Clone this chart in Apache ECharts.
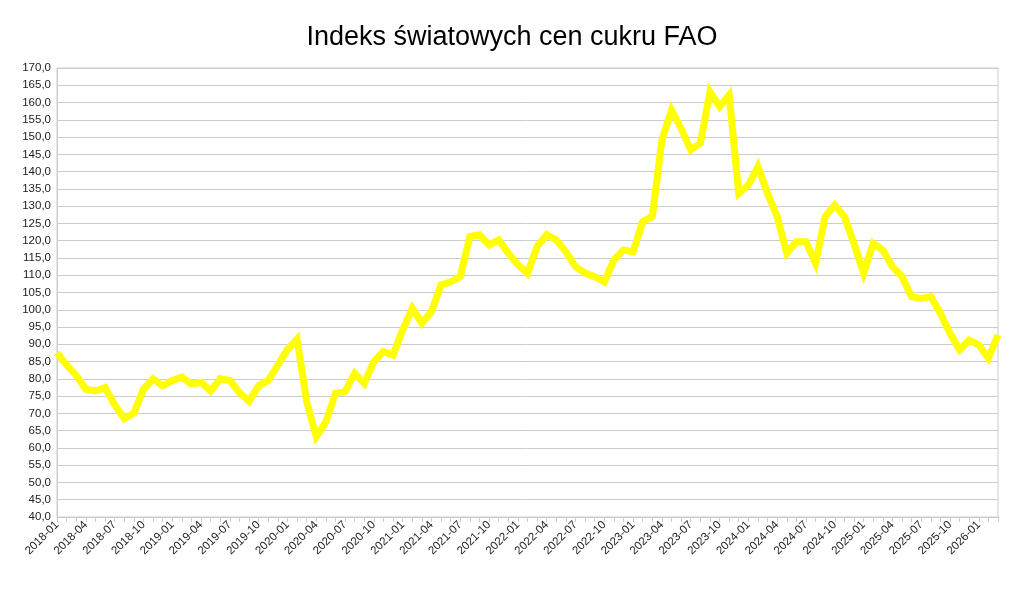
<!DOCTYPE html>
<html><head><meta charset="utf-8">
<script src="https://cdn.jsdelivr.net/npm/echarts@6/dist/echarts.min.js"></script>
<style>html,body{margin:0;padding:0;background:#fff}#c{width:1024px;height:590px}</style>
</head><body><div id="c"></div>
<script>
const years = [2018,2019,2020,2021,2022,2023,2024,2025,2026];
const categories = [];
years.forEach(y => { for (let m = 1; m <= 12; m++) { if (y === 2026 && m > 3) break; categories.push(y + '-' + String(m).padStart(2,'0')); } });
const values2018 = [87.5,84,81,77,76.5,77.5,72.5,68.5,70,77,80,78];
const values2019 = [79.5,80.5,78.5,79,76.5,80,79.5,76,73.5,78,79.5,84];
const values2020 = [88.5,91.5,73.5,63.2,67.5,75.8,76.3,81.6,78.7,85,87.9,86.9];
const values2021 = [94.1,100.4,96.1,99.5,107.2,108.1,109.6,121.2,121.7,118.8,120.2,116.4];
const values2022 = [113,110.6,118.3,121.7,120.2,116.8,112.5,110.6,109.6,108.1,114.4,117.3];
const values2023 = [116.8,125.5,127,149.2,157.8,152.5,146.3,148.2,163.1,158.8,162.2,133.7];
const values2024 = [136.1,141.4,133.7,127,116.4,119.7,119.7,113.5,127,130.3,127,119.2];
const values2025 = [110.6,119.2,117.3,112.5,109.6,103.8,103.3,103.8,99,93.2,88.4,91.2];
const values2026 = [89.8,86,92.7];
const values = [].concat(values2018,values2019,values2020,values2021,values2022,values2023,values2024,values2025,values2026);
const chart = echarts.init(document.getElementById('c'));
chart.setOption({
  animation:false,
  title:{text:'Indeks światowych cen cukru FAO',left:'center',top:19,textStyle:{fontFamily:'Liberation Sans',fontSize:27,fontWeight:'normal',color:'#000'}},
  grid:{left:57,right:26,top:68,bottom:73,show:true,borderColor:'#ccc',borderWidth:1},
  xAxis:{type:'category',boundaryGap:false,data:categories,
    axisLine:{lineStyle:{color:'#ccc'}},
    axisTick:{show:true,interval:0,lineStyle:{color:'#ccc'}},
    axisLabel:{interval:2,rotate:45,fontFamily:'Liberation Sans',fontSize:11.5,color:'#222',margin:6}},
  yAxis:{type:'value',min:40,max:170,interval:5,
    axisLine:{show:true,lineStyle:{color:'#ccc'}},
    axisTick:{show:false},
    splitLine:{lineStyle:{color:'#ccc'}},
    axisLabel:{fontFamily:'Liberation Sans',fontSize:11.5,color:'#222',margin:6,formatter:v=>v.toFixed(1).replace('.',',')}},
  series:[{type:'line',data:values,showSymbol:false,lineStyle:{color:'#ffff00',width:7,join:'miter'},itemStyle:{color:'#ffff00'}}]
});
</script></body></html>
